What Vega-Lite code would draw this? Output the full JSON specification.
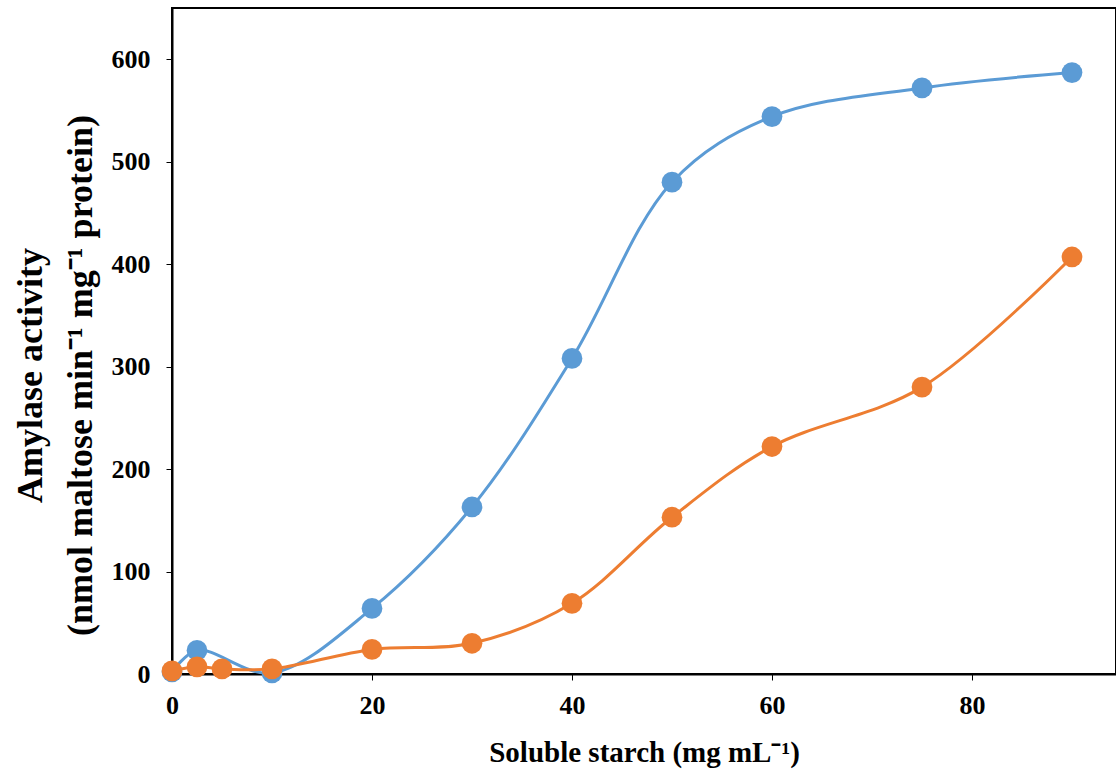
{
  "$schema": "https://vega.github.io/schema/vega-lite/v6.json",
  "width": 944,
  "height": 666,
  "autosize": "none",
  "padding": {"left": 172, "top": 8, "right": 0, "bottom": 108},
  "background": "white",
  "config": {
    "view": {"stroke": "black", "strokeWidth": 2},
    "font": "Liberation Serif"
  },
  "data": {
    "values": [
      {"series": "A", "x": 0, "y": 2},
      {"series": "A", "x": 2.5, "y": 23},
      {"series": "A", "x": 10, "y": 1},
      {"series": "A", "x": 20, "y": 64},
      {"series": "A", "x": 30, "y": 163},
      {"series": "A", "x": 40, "y": 308},
      {"series": "A", "x": 50, "y": 480},
      {"series": "A", "x": 60, "y": 544},
      {"series": "A", "x": 75, "y": 572},
      {"series": "A", "x": 90, "y": 587},
      {"series": "B", "x": 0, "y": 3},
      {"series": "B", "x": 2.5, "y": 7},
      {"series": "B", "x": 5, "y": 5},
      {"series": "B", "x": 10, "y": 5},
      {"series": "B", "x": 20, "y": 24},
      {"series": "B", "x": 30, "y": 30},
      {"series": "B", "x": 40, "y": 69},
      {"series": "B", "x": 50, "y": 153},
      {"series": "B", "x": 60, "y": 222},
      {"series": "B", "x": 75, "y": 280},
      {"series": "B", "x": 90, "y": 407}
    ]
  },
  "encoding": {
    "x": {
      "field": "x",
      "type": "quantitative",
      "scale": {"domain": [0, 94.4], "nice": false, "zero": false},
      "axis": {
        "values": [0, 20, 40, 60, 80],
        "labelFlush": false,
        "title": "Soluble starch (mg mL⁻¹)",
        "titleFont": "Liberation Serif",
        "titleFontSize": 29,
        "titleFontWeight": "bold",
        "titleColor": "black",
        "titlePadding": 20,
        "labelFont": "Liberation Serif",
        "labelFontSize": 26,
        "labelFontWeight": "bold",
        "labelColor": "black",
        "labelPadding": 12,
        "tickSize": 6,
        "tickColor": "black",
        "domainColor": "black",
        "domainWidth": 2,
        "grid": false
      }
    },
    "y": {
      "field": "y",
      "type": "quantitative",
      "scale": {"domain": [0, 650], "nice": false},
      "axis": {
        "values": [0, 100, 200, 300, 400, 500, 600],
        "labelFlush": false,
        "title": ["Amylase activity", "(nmol maltose min⁻¹ mg⁻¹ protein)"],
        "titleFont": "Liberation Serif",
        "titleFontSize": 36,
        "titleFontWeight": "bold",
        "titleColor": "black",
        "titleLineHeight": 50,
        "titlePadding": 12,
        "titleY": 367,
        "titleAlign": "center",
        "labelFont": "Liberation Serif",
        "labelFontSize": 26,
        "labelFontWeight": "bold",
        "labelColor": "black",
        "labelPadding": 16,
        "tickSize": 6,
        "tickColor": "black",
        "domainColor": "black",
        "domainWidth": 2,
        "grid": false
      }
    },
    "color": {
      "field": "series",
      "type": "nominal",
      "scale": {"domain": ["A", "B"], "range": ["#5B9BD5", "#ED7D31"]},
      "legend": null
    }
  },
  "layer": [
    {"mark": {"type": "line", "interpolate": "catmull-rom", "strokeWidth": 3}},
    {"mark": {"type": "point", "filled": true, "size": 430, "opacity": 1}}
  ]
}
